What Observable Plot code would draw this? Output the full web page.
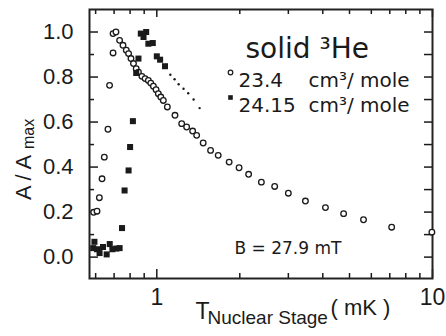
<!DOCTYPE html>
<html><head><meta charset="utf-8">
<script src="https://cdn.jsdelivr.net/npm/d3@7"></script>
<script src="https://cdn.jsdelivr.net/npm/@observablehq/plot@0.6"></script>
<style>body{margin:0;background:#fff} svg{display:block;background:#fff}</style>
</head><body><div id="chart"></div>
<script>
// 23.4 cm3/mole (open circles)
const circT = [0.590,0.607,0.619,0.633,0.645,0.665,0.674,0.694,0.694,0.711,0.733,0.754,0.775,0.790,0.806,0.823,0.842,0.858,0.883,0.907,0.932,0.951,0.972,0.994,1.013,1.034,1.056,1.092,1.164,1.231,1.283,1.349,1.395,1.473,1.567,1.670,1.830,1.988,2.153,2.395,2.676,3.00,3.46,4.09,4.76,5.62,7.11,9.95];
const circA = [0.199,0.204,0.264,0.348,0.444,0.568,0.763,0.907,0.993,1.000,0.963,0.941,0.919,0.904,0.882,0.860,0.837,0.822,0.803,0.793,0.785,0.773,0.759,0.744,0.726,0.711,0.696,0.667,0.630,0.593,0.578,0.560,0.541,0.507,0.474,0.452,0.422,0.397,0.368,0.333,0.314,0.284,0.249,0.220,0.193,0.166,0.133,0.111];
// 24.15 cm3/mole (filled squares)
const sqT = [0.588,0.594,0.607,0.620,0.638,0.658,0.675,0.690,0.713,0.733,0.748,0.764,0.790,0.800,0.819,0.842,0.858,0.875,0.895,0.915,0.932,0.967,1.000,1.028,1.071];
const sqA = [0.040,0.068,0.035,0.018,0.045,0.012,0.058,0.035,0.038,0.040,0.129,0.296,0.385,0.489,0.604,0.818,0.882,0.993,0.978,1.000,0.948,0.951,0.892,0.877,0.848];
// small dots continuing the 24.15 series
const dotT = [1.12,1.16,1.20,1.25,1.30,1.36,1.43];
const dotA = [0.810,0.790,0.768,0.748,0.728,0.700,0.662];
// tick values
const xLabelTicks = [1, 10];
const xMinorTicks = [0.6,0.7,0.8,0.9,2,3,4,5,6,7,8,9];
const yLabelTicks = [0,0.2,0.4,0.6,0.8,1.0];
const yMinorTicks = [0.1,0.3,0.5,0.7,0.9];
const yAllTicks = [0,0.1,0.2,0.3,0.4,0.5,0.6,0.7,0.8,0.9,1.0];

const circles = circT.map((t,i)=>({t, a: circA[i]}));
const squares = sqT.map((t,i)=>({t, a: sqA[i]}));
const dots = dotT.map((t,i)=>({t, a: dotA[i]}));

const W=446, H=336, mL=89, mR=14, mT=9, mB=58;
const fw = W-mL-mR, fh = H-mT-mB;
const sans = "Liberation Sans, Arial, sans-serif";
const verd = "DejaVu Sans, Verdana, sans-serif";
const ink = "#1a1a1a";

const chart = Plot.plot({
  width: W, height: H,
  marginLeft: mL, marginRight: mR, marginTop: mT, marginBottom: mB,
  style: {fontFamily: sans, background: "#fff", color: ink},
  x: {type: "log", domain: [0.57, 10]},
  y: {domain: [-0.095, 1.10]},
  marks: [
    // tick marks pointing inward
    Plot.ruleX(xLabelTicks, {x: d=>d, insetTop: fh-9, stroke: ink, strokeWidth: 1.5}),
    Plot.ruleX(xMinorTicks, {x: d=>d, insetTop: fh-5, stroke: ink, strokeWidth: 1.5}),
    Plot.ruleX(xLabelTicks, {x: d=>d, insetBottom: fh-8, stroke: ink, strokeWidth: 1.5}),
    Plot.ruleX(xMinorTicks, {x: d=>d, insetBottom: fh-5, stroke: ink, strokeWidth: 1.5}),
    Plot.ruleY(yLabelTicks, {y: d=>d, insetRight: fw-9, stroke: ink, strokeWidth: 1.5}),
    Plot.ruleY(yMinorTicks, {y: d=>d, insetRight: fw-5, stroke: ink, strokeWidth: 1.5}),
    Plot.ruleY(yAllTicks, {y: d=>d, insetLeft: fw-8, stroke: ink, strokeWidth: 1.5}),
    Plot.axisY(yLabelTicks, {tickSize: 0, tickPadding: 16, tickFormat: d=>d.toFixed(1), fontSize: 22, label: null, fill: ink}),
    Plot.axisX(xLabelTicks, {tickSize: 0, tickPadding: 10, tickFormat: d=>String(d), fontSize: 23, label: null, fill: ink}),
    Plot.frame({stroke: "#222", strokeWidth: 2}),
    // data
    Plot.dot(circles, {x: "t", y: "a", r: 2.8, stroke: ink, strokeWidth: 1.3, fill: "white"}),
    Plot.dot(squares, {x: "t", y: "a", symbol: "square", r: 3.4, fill: ink, stroke: "none"}),
    Plot.dot(dots, {x: "t", y: "a", r: 1.2, fill: ink, stroke: "none"}),
    // annotations
    Plot.text(["solid \u00b3He"], {frameAnchor: "top-left", dx: 156, dy: 29, textAnchor: "start", fontSize: 28, fontFamily: verd, fill: ink}),
    Plot.dot([0], {frameAnchor: "top-left", dx: 141, dy: 63, r: 2.3, stroke: ink, strokeWidth: 1.2, fill: "white"}),
    Plot.dot([0], {frameAnchor: "top-left", dx: 141, dy: 88, symbol: "square", r: 2.6, fill: ink, stroke: "none"}),
    Plot.text(["23.4"], {frameAnchor: "top-left", dx: 149, dy: 63, textAnchor: "start", fontSize: 20, fontFamily: verd, fill: ink}),
    Plot.text(["cm\u00b3/ mole"], {frameAnchor: "top-left", dx: 219, dy: 63, textAnchor: "start", fontSize: 20, fontFamily: verd, fill: ink}),
    Plot.text(["24.15"], {frameAnchor: "top-left", dx: 149, dy: 88, textAnchor: "start", fontSize: 20, fontFamily: verd, fill: ink}),
    Plot.text(["cm\u00b3/ mole"], {frameAnchor: "top-left", dx: 219, dy: 88, textAnchor: "start", fontSize: 20, fontFamily: verd, fill: ink}),
    Plot.text(["B = 27.9 mT"], {frameAnchor: "top-left", dx: 145, dy: 232, textAnchor: "start", fontSize: 17, fontFamily: verd, fill: ink}),
    // x axis title
    Plot.text(["T"], {frameAnchor: "bottom-left", dx: 106, dy: 40, fontSize: 23, fill: ink}),
    Plot.text(["Nuclear Stage"], {frameAnchor: "bottom-left", dx: 118, dy: 45, textAnchor: "start", fontSize: 19, fill: ink}),
    Plot.text(["( mK )"], {frameAnchor: "bottom-left", dx: 241, dy: 36, textAnchor: "start", fontSize: 22, fill: ink}),
    // y axis title
    Plot.text(["A / A"], {frameAnchor: "left", dx: -66, dy: 56, rotate: -90, textAnchor: "start", fontSize: 22, fill: ink}),
    Plot.text(["max"], {frameAnchor: "left", dx: -61, dy: 5, rotate: -90, textAnchor: "start", fontSize: 16, fill: ink})
  ]
});
document.getElementById("chart").appendChild(chart);
</script>
</body></html>
